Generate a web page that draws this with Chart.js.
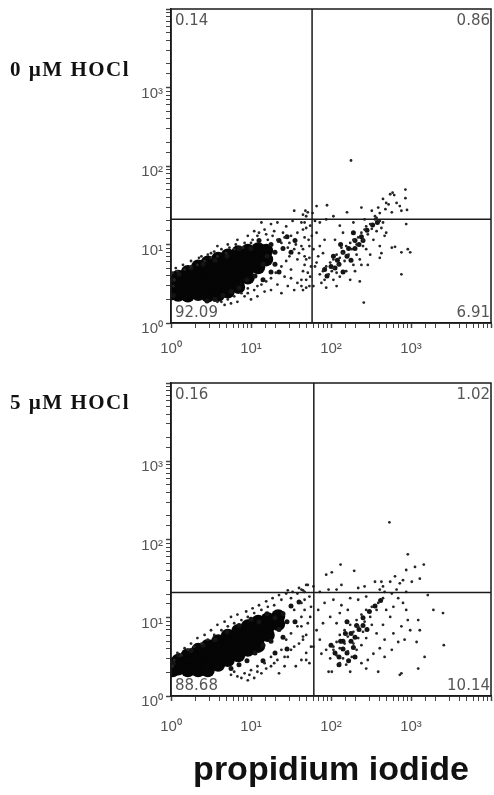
<!DOCTYPE html>
<html>
<head>
<meta charset="utf-8">
<script src="https://cdn.jsdelivr.net/npm/chart.js@4.4.1/dist/chart.umd.min.js"></script>
<style>
  body { margin: 0; background: #fff; width: 494px; height: 795px; position: relative; overflow: hidden; }
  .panel { position: absolute; left: 0; width: 494px; }
  .tag { position: absolute; left: 10px; font: bold 21px "Liberation Serif", "Times New Roman", serif; letter-spacing: 1.5px; color: #111; white-space: nowrap; }
</style>
</head>
<body>
<div class="panel" style="top:0;height:374px"><canvas id="ctrl"></canvas></div>
<div class="panel" style="top:374px;height:421px"><canvas id="hocl"></canvas></div>
<div class="tag" style="top:57px">0 µM HOCl</div>
<div class="tag" style="top:390px">5 µM HOCl</div>
<script>
// all events are in log10 units (decades): [x, y]
const panelTitles = ["0 µM HOCl", "5 µM HOCl"];
const axisTitle = "propidium iodide";
const decadeValues = [1, 10, 100, 1000];
const decadeLabels = ["10⁰", "10¹", "10²", "10³"];

// quadrant gates and percentages (UL, UR, LL, LR)
const ctrlGate = [58, 21];
const hoclGate = [61, 21];
const ctrlPct = ["0.14", "0.86", "92.09", "6.91"];
const hoclPct = ["0.16", "1.02", "88.68", "10.14"];

// 0 uM: dense live-cell blob
const ctrlCore = [
  [0.02,0.50],[0.02,0.38],
  [0.09,0.59],[0.09,0.47],[0.09,0.36],
  [0.21,0.65],[0.21,0.54],[0.21,0.42],[0.21,0.35],
  [0.34,0.72],[0.34,0.60],[0.34,0.49],[0.34,0.37],
  [0.46,0.77],[0.46,0.65],[0.46,0.54],[0.46,0.42],[0.46,0.35],
  [0.59,0.82],[0.59,0.71],[0.59,0.59],[0.59,0.47],[0.59,0.36],
  [0.71,0.86],[0.71,0.74],[0.71,0.63],[0.71,0.51],[0.71,0.40],
  [0.84,0.90],[0.84,0.78],[0.84,0.67],[0.84,0.55],[0.84,0.46],
  [0.96,0.92],[0.96,0.81],[0.96,0.69],[0.96,0.58],
  [1.09,0.94],[1.09,0.82],[1.09,0.71],
  [1.19,0.92],[1.19,0.81]
];
const ctrlMid = [
  [1.25,1.00],[1.30,0.90],[1.35,1.05],[1.20,0.85],[1.40,0.95],[1.15,0.75],[1.30,0.75],
  [1.45,1.10],[1.10,1.05],[1.25,0.65],[1.05,0.60],[0.95,0.55],[1.15,0.55],[0.85,0.45],
  [0.75,0.40],[0.65,0.35],[1.00,0.95],[0.85,0.95],[0.70,0.85],[0.55,0.80],[0.40,0.75],
  [0.25,0.70],[0.10,0.62],[0.03,0.35],[0.03,0.55],[0.55,0.30],[0.45,0.28],[1.35,0.65],
  [1.50,0.90],[1.55,1.05],
  [2.10,0.75],[2.20,0.85],[2.30,0.95],[2.15,0.65],[2.40,1.05],[2.25,0.80],[2.05,0.70],[2.35,1.00],
  [1.95,0.60],[2.00,0.72],[2.08,0.80],[2.15,0.90],[2.22,0.95],[2.30,1.05],[2.38,1.10],
  [2.45,1.18],[2.52,1.25],[2.58,1.28],[2.03,0.85],[1.92,0.68],[2.12,1.00],[2.28,1.15]
];
const ctrlSparse = [
  [1.54,1.43],[1.65,1.38],[1.71,1.41],[1.25,1.26],[1.33,1.28],[1.44,1.23],[1.52,1.30],
  [1.63,1.28],[1.69,1.21],[1.17,1.19],[1.29,1.17],[1.40,1.15],[1.50,1.11],[1.58,1.15],
  [1.67,1.09],[1.08,1.11],[1.21,1.06],[1.38,1.02],[1.46,0.96],[1.56,1.00],[1.65,0.94],
  [1.73,0.98],[1.00,1.02],[0.90,0.96],[0.79,0.94],[0.69,0.89],[0.58,0.85],[0.50,0.83],
  [0.42,0.79],[0.33,0.74],[0.25,0.72],[0.17,0.68],[0.08,0.66],[1.48,0.85],[1.58,0.81],
  [1.67,0.74],[1.71,0.64],[1.50,0.68],[1.42,0.59],[1.63,0.55],[1.73,0.47],[1.33,0.49],
  [1.25,0.42],[1.17,0.40],[1.08,0.34],[1.00,0.30],[0.92,0.34],[0.83,0.27],[0.75,0.25],
  [1.46,0.47],[1.54,0.42],[1.65,0.42],[1.38,0.38],[1.08,0.47],[0.96,0.38],[0.04,0.55],
  [0.03,0.47],[0.02,0.64],[0.67,0.23],[0.63,0.27],[0.58,0.98],[0.71,1.00],[0.83,1.06],
  [0.96,1.11],[1.04,1.17],[1.13,1.28],[0.50,0.89],[0.38,0.85],
  [0.46,0.87],[0.54,0.91],[0.63,0.94],[0.73,0.96],[0.81,1.00],[0.92,1.02],[1.02,1.06],
  [1.10,1.15],[1.19,1.13],[1.27,1.11],[1.33,1.06],[1.42,1.09],[1.48,1.02],[1.54,0.94],
  [1.60,0.89],[1.67,0.85],[1.44,0.79],[1.38,0.72],[1.31,0.64],[1.25,0.57],[1.19,0.53],
  [1.13,0.49],[1.04,0.42],[0.96,0.44],[0.88,0.38],[0.79,0.34],[0.71,0.30],[0.58,0.27],
  [1.50,0.57],[1.58,0.51],[1.69,0.55],[1.75,0.72],[1.73,0.83],[0.25,0.79],[0.15,0.74],
  [0.06,0.70],[0.35,0.83],
  [2.25,2.07],[2.41,0.26],[2.88,0.62],[2.93,1.70],[2.77,1.66],[2.79,1.63],[2.93,1.59],
  [2.95,1.44],[2.72,1.51],[2.82,1.53],[2.68,1.45],[2.61,1.40],[2.57,1.34],[2.51,1.43],
  [2.38,1.47],[2.20,1.41],[1.95,1.50],[1.82,1.49],[1.68,1.43],[1.77,1.40],
  [2.65,1.28],[2.61,1.30],[2.55,1.32],[2.49,1.26],[2.44,1.23],[2.51,1.20],[2.42,1.19],
  [2.38,1.15],[2.46,1.13],[2.34,1.09],[2.40,1.06],[2.28,1.06],[2.24,1.02],[2.32,1.00],
  [2.19,0.98],[2.13,0.96],[2.26,0.94],[2.15,0.89],[2.07,0.87],[2.22,0.87],[2.11,0.83],
  [2.03,0.81],[2.17,0.79],[1.99,0.77],[2.09,0.74],[1.94,0.72],[2.03,0.70],[1.90,0.66],
  [2.01,0.66],[1.97,0.62],[1.86,0.62],[2.07,0.64],[1.92,0.55],[1.88,0.51],[2.03,0.55],
  [2.11,0.59],[2.19,0.66],[2.28,0.74],[2.36,0.81],[2.32,0.87],[2.44,0.94],[2.40,0.98],
  [2.53,1.06],[2.57,1.17],[2.63,1.21],[2.69,1.15],[2.67,1.11],[2.61,0.98],[2.63,0.89],
  [2.76,0.96],[2.80,0.97],[2.88,0.90],[2.96,0.94],[2.99,0.90],[2.49,0.87],[2.38,0.74],
  [2.30,0.66],[2.24,0.55],[2.07,0.47],[1.94,0.45],[1.78,0.47],[1.69,0.45],[1.63,0.47],
  [1.84,0.85],[1.78,0.94],[1.86,0.98],[1.72,1.06],[1.82,1.15],[1.65,1.19],[1.74,1.24],
  [1.67,1.28],[1.86,1.28],[1.94,1.32],[2.03,1.36],[2.11,1.24],[2.05,1.06],[2.15,1.15],
  [2.28,1.28],[2.42,1.32],[1.92,1.06],[1.63,0.98],[1.69,0.81],[1.80,0.72],[1.65,0.66],
  [1.74,0.59],[1.82,0.77],[1.90,0.89],[1.76,1.11],[1.69,1.36],[1.80,1.30],[2.55,1.36],
  [2.59,1.47],[2.69,1.53],[2.74,1.64],[2.86,1.49],[2.94,1.26],[2.88,1.43],[2.65,1.58],
  [2.76,1.41],[2.36,0.53],[2.46,0.74],[2.61,0.83]
];

// 5 uM HOCl
const hoclCore = [
  [0.02,0.40],[0.02,0.33],
  [0.09,0.45],[0.09,0.35],
  [0.21,0.52],[0.21,0.42],[0.21,0.33],
  [0.34,0.59],[0.34,0.49],[0.34,0.38],[0.34,0.33],
  [0.46,0.64],[0.46,0.54],[0.46,0.43],[0.46,0.33],
  [0.59,0.70],[0.59,0.60],[0.59,0.50],[0.59,0.40],
  [0.71,0.77],[0.71,0.66],[0.71,0.56],[0.71,0.46],
  [0.84,0.83],[0.84,0.73],[0.84,0.63],[0.84,0.52],
  [0.96,0.89],[0.96,0.79],[0.96,0.69],[0.96,0.59],
  [1.09,0.95],[1.09,0.84],[1.09,0.74],[1.09,0.64],
  [1.21,0.98],[1.21,0.88],[1.21,0.78],
  [1.34,1.02],[1.34,0.92]
];
const hoclMid = [
  [1.40,1.05],[1.45,0.95],[1.50,1.15],[1.35,0.85],[1.30,1.00],[1.55,0.95],[1.25,0.70],
  [1.15,0.65],[1.05,0.55],[1.40,0.75],[0.95,0.45],[0.85,0.40],[1.10,0.95],[1.20,1.05],
  [1.00,0.98],[0.85,0.90],[0.70,0.82],[0.55,0.72],[0.40,0.65],[0.25,0.58],[0.10,0.52],
  [0.03,0.42],[1.45,0.60],[1.60,1.20],[1.30,0.55],[0.75,0.35],[1.15,0.45],
  [2.15,0.60],[2.25,0.70],[2.20,0.55],[2.30,0.75],[2.12,0.70],[2.35,0.85],[2.18,0.80],
  [2.28,0.62],[2.10,0.50],[2.40,0.90],[2.22,0.45],
  [2.05,0.55],[2.15,0.70],[2.25,0.80],[2.32,0.90],[2.40,1.00],[2.48,1.08],[2.55,1.15],
  [2.62,1.22],[2.10,0.40],[2.00,0.65],[2.30,0.50],[2.45,0.85],[2.20,0.95]
];
const hoclSparse = [
  [1.71,1.42],[1.65,1.35],[1.58,1.31],[1.46,1.35],[1.50,1.25],[1.67,1.23],[1.75,1.14],
  [1.38,1.23],[1.29,1.16],[1.21,1.14],[1.13,1.10],[1.04,1.06],[0.96,1.01],[0.88,0.97],
  [0.79,0.93],[0.71,0.89],[0.63,0.84],[0.54,0.78],[0.46,0.72],[0.38,0.67],[0.29,0.63],
  [0.21,0.59],[0.13,0.52],[0.04,0.46],[0.02,0.38],[1.54,1.10],[1.63,1.01],[1.71,0.93],
  [1.58,0.89],[1.50,0.80],[1.65,0.72],[1.75,0.63],[1.54,0.63],[1.44,0.72],[1.38,0.59],
  [1.46,0.50],[1.63,0.46],[1.33,0.46],[1.25,0.50],[1.17,0.42],[1.08,0.38],[1.00,0.33],
  [0.92,0.29],[0.83,0.25],[0.75,0.27],[1.25,0.38],[1.13,0.29],[1.04,0.23],[1.42,0.38],
  [1.73,0.42],[0.96,0.20],
  [0.75,1.01],[0.83,1.04],[0.94,1.08],[1.02,1.12],[1.10,1.16],[1.19,1.21],[1.27,1.25],
  [1.35,1.29],[1.44,1.31],[1.52,1.33],[1.60,1.38],[1.67,1.33],[1.73,1.27],[0.67,0.95],
  [0.58,0.91],[0.50,0.84],[0.42,0.78],[0.33,0.74],[0.25,0.67],[0.17,0.61],[0.08,0.55],
  [1.63,0.89],[1.69,0.78],[1.60,0.67],[1.50,0.59],[1.42,0.50],[1.29,0.42],[1.19,0.35],
  [1.08,0.31],[0.98,0.27],[0.88,0.23],[0.79,0.31],[1.69,0.55],[1.56,0.38],[1.35,0.29],
  [2.73,2.22],[2.96,1.81],[3.16,1.68],[3.05,1.65],[2.94,1.61],[2.29,1.60],[2.12,1.68],
  [2.01,1.58],[1.94,1.55],[3.01,1.46],[3.11,1.50],[2.90,1.48],[2.86,1.44],[2.74,1.46],
  [2.63,1.46],[2.55,1.46],[2.42,1.40],[2.34,1.38],[2.13,1.42],[2.07,1.36],[1.97,1.36],
  [1.86,1.33],[1.78,1.40],[1.69,1.42],[1.63,1.36],[2.82,1.36],[2.76,1.31],[2.67,1.33],
  [2.61,1.36],[2.94,1.33],[3.21,1.29],[3.28,1.10],[3.40,1.06],[3.41,0.65],[3.17,0.50],
  [3.09,0.35],[2.86,0.27],[2.88,0.29],[2.59,0.31],[2.44,0.35],[2.24,0.31],[2.01,0.31],
  [1.97,0.31],[2.65,1.25],[2.59,1.19],[2.51,1.14],[2.44,1.10],[2.57,1.10],[2.38,1.04],
  [2.49,1.01],[2.32,0.97],[2.42,0.95],[2.24,0.91],[2.34,0.89],[2.51,0.91],[2.17,0.84],
  [2.28,0.82],[2.40,0.82],[2.11,0.78],[2.21,0.76],[2.34,0.74],[2.07,0.69],[2.17,0.67],
  [2.28,0.67],[2.38,0.65],[2.11,0.61],[2.03,0.59],[2.21,0.57],[2.32,0.59],[2.07,0.52],
  [2.15,0.48],[2.26,0.50],[1.99,0.48],[2.11,0.42],[2.19,0.40],[2.03,0.63],[1.94,0.59],
  [2.44,0.74],[2.57,0.80],[2.65,0.91],[2.74,1.01],[2.78,1.14],[2.69,1.10],[2.84,1.25],
  [2.90,1.19],[2.94,1.10],[2.96,0.97],[2.88,0.89],[2.78,0.80],[2.67,0.72],[2.61,0.61],
  [2.53,0.54],[2.46,0.46],[2.38,0.42],[2.67,0.50],[2.76,0.59],[2.84,0.69],[2.92,0.72],
  [2.99,0.84],[3.09,0.97],[3.11,0.84],[3.07,0.69],[1.86,0.72],[1.82,0.84],[1.90,0.93],
  [1.74,1.01],[1.67,1.10],[1.84,1.10],[1.92,1.19],[2.03,1.23],[2.13,1.16],[1.99,1.01],
  [2.07,0.93],[1.88,0.54],[1.78,0.63],[1.69,0.46],[1.65,0.76],[1.63,1.19],[2.24,1.25],
  [2.34,1.23],[2.44,1.27],[2.21,1.10],[2.11,1.06],[2.65,1.40],[2.80,1.53]
];

const toPts = (arr) => arr.map(([x, y]) => ({ x: Math.pow(10, x), y: Math.pow(10, y) }));

const quadrants = {
  id: "quadrants",
  afterDatasetsDraw(chart, args, opts) {
    const { ctx, chartArea: a } = chart;
    const gx = chart.scales.x.getPixelForValue(opts.gate[0]);
    const gy = chart.scales.y.getPixelForValue(opts.gate[1]);
    ctx.save();
    ctx.strokeStyle = "#1a1a1a";
    ctx.lineWidth = 1.5;
    ctx.beginPath();
    ctx.moveTo(gx, a.top);
    ctx.lineTo(gx, a.bottom);
    ctx.moveTo(a.left, gy);
    ctx.lineTo(a.right, gy);
    ctx.stroke();
    ctx.strokeRect(a.left, a.top, a.right - a.left, a.bottom - a.top);
    ctx.fillStyle = "#555";
    ctx.font = '15px "DejaVu Sans"';
    ctx.textBaseline = "middle";
    ctx.textAlign = "left";
    ctx.fillText(opts.pct[0], a.left + 4, a.top + 12);
    ctx.fillText(opts.pct[2], a.left + 4, a.bottom - 10);
    ctx.textAlign = "right";
    ctx.fillText(opts.pct[1], a.right - 1, a.top + 12);
    ctx.fillText(opts.pct[3], a.right - 1, a.bottom - 10);
    ctx.restore();
  }
};

function tickLabel(v) {
  const i = decadeValues.indexOf(v);
  return i < 0 ? "" : decadeLabels[i];
}

function makeChart(id, core, mid, sparse, gate, pct, xHeight, padBottom, xPad, withTitle) {
  const tickFont = { family: "Liberation Sans", size: 15 };
  const grid = {
    drawOnChartArea: false,
    drawTicks: true,
    tickLength: 5,
    tickColor: "#444",
    tickWidth: (c) => (c.tick && c.tick.major ? 1.5 : 1)
  };
  const dot = (data, r, color) => ({
    data: toPts(data), pointRadius: r, pointBackgroundColor: color,
    pointBorderWidth: 0, pointBorderColor: color, showLine: false
  });
  return new Chart(document.getElementById(id), {
    type: "scatter",
    data: {
      datasets: [
        dot(sparse, 1.4, "#262626"),
        dot(mid, 2.5, "#141414"),
        dot(core, 7, "#050505")
      ]
    },
    options: {
      responsive: true,
      maintainAspectRatio: false,
      animation: false,
      events: [],
      layout: { autoPadding: false, padding: { left: 111, right: 3, top: 9, bottom: padBottom } },
      plugins: {
        legend: { display: false },
        tooltip: { enabled: false },
        quadrants: { gate, pct }
      },
      scales: {
        x: {
          type: "logarithmic",
          min: 1,
          max: 10000,
          grid,
          border: { display: true, color: "#1a1a1a", width: 1.5 },
          ticks: { autoSkip: false, maxRotation: 0, padding: xPad, color: "#555", font: tickFont, callback: tickLabel },
          title: {
            display: withTitle,
            text: axisTitle,
            color: "#111",
            padding: 0,
            font: { family: "Liberation Sans", weight: "bold", size: 34 }
          },
          afterFit: (s) => { s.height = xHeight; s.paddingLeft = 0; s.paddingRight = 0; }
        },
        y: {
          type: "logarithmic",
          min: 1,
          max: 10000,
          grid,
          border: { display: true, color: "#1a1a1a", width: 1.5 },
          ticks: { autoSkip: false, padding: 3, labelOffset: 6, color: "#555", font: tickFont, callback: tickLabel },
          afterFit: (s) => { s.width = 60; s.paddingTop = 0; s.paddingBottom = 0; }
        }
      }
    },
    plugins: [quadrants]
  });
}

makeChart("ctrl", ctrlCore, ctrlMid, ctrlSparse, ctrlGate, ctrlPct, 40, 11, 12, false);
makeChart("hocl", hoclCore, hoclMid, hoclSparse, hoclGate, hoclPct, 95, 4, 17, true);
</script>
</body>
</html>
